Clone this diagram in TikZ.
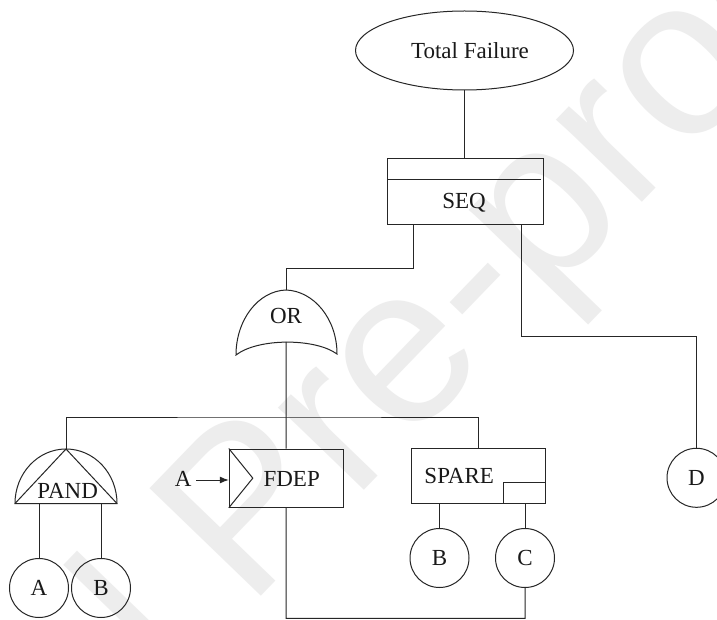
\documentclass[tikz,border=0pt]{standalone}
\usepackage{fontspec}
\setmainfont{Liberation Serif}
\newfontfamily\wmfont{Liberation Sans}
\usetikzlibrary{shapes.geometric,arrows.meta,calc}

\tikzset{
  ln/.style={line width=1pt, draw=black!85},
  lbl/.style={font=\fontsize{23}{27}\selectfont, inner sep=0pt, anchor=base, text=black!90},
  evt/.style={ln, circle, minimum size=59pt, inner sep=0pt, font=\fontsize{23}{27}\selectfont, text=black!90},
  gatebox/.style={ln, rectangle, inner sep=0pt},
}

\begin{document}
\begin{tikzpicture}[x=1pt, y=1pt]
\useasboundingbox (0,0) rectangle (717,619);
\fill[white] (0,0) rectangle (717,619);

% faint watermark
\begin{scope}
\clip (0,0) rectangle (717,619);
\node[rotate=46, text=black!7, font=\wmfont\fontsize{225}{225}\selectfont, inner sep=0pt] (wm) at (255,100) {Journal Pre-proof};
\end{scope}

% top event
\node[ln, ellipse, minimum width=218pt, minimum height=79pt, inner sep=0pt] (top) at (464.5,568.5) {};
\node[lbl] (toptxt) at (470,560.7) {Total Failure};

% SEQ gate
\node[gatebox, minimum width=155.5pt, minimum height=66pt] (seq) at (465.25,427) {};
\draw[ln] ($(seq.north west)+(0,-21)$) -- ($(seq.north east)+(-3,-21)$);
\node[lbl] (seqtxt) at (464,410.7) {SEQ};
\draw[ln] (top.south) -- (top.south |- seq.north);

% OR gate
\coordinate (ortop) at (286,329);
\coordinate (orbot) at (286,277);
\draw[ln] (236,264) .. controls (236,299) and (258,328) .. (ortop)
  .. controls (314,328) and (337,300) .. (337,265)
  .. controls (315,281) and (258,281) .. (236,264) -- cycle;
\node[lbl] (ortxt) at (286,295.7) {OR};

% SEQ inputs
\coordinate (seqL) at ($(seq.south west)+(26.5,0)$);
\coordinate (seqR) at ($(seq.south west)+(134.5,0)$);
\draw[ln] (seqL) -- ++(0,-43.5) -| (ortop);

% FDEP gate
\node[gatebox, minimum width=113.7pt, minimum height=58.3pt] (fdep) at (286.15,140.85) {};
\draw[ln] (fdep.north west) -- ($(fdep.west)+(24,0)$) -- (fdep.south west);
\node[lbl] (fdeptxt) at (291.7,132.3) {FDEP};
\node[lbl] (trig) at (183.3,132.3) {A};
\draw[ln, -{Latex[length=9pt,width=7pt]}] ($(trig.base east)+(4.5,6.7)$) -- (fdep.west |- 0,139);

% SPARE gate
\node[gatebox, minimum width=134.7pt, minimum height=55pt] (spare) at (478.35,143.2) {};
\draw[ln] ($(spare.south east)+(-42.4,0)$) |- ($(spare.south east)+(0,21)$);
\node[lbl] (sparetxt) at (459.2,135.7) {SPARE};

% PAND gate
\coordinate (pandtop) at (66,170);
\coordinate (pandL) at (15,115.5);
\coordinate (pandR) at (117,115.5);
\draw[ln] (pandL) arc[start angle=180, end angle=0, x radius=51pt, y radius=54.5pt] -- cycle;
\draw[ln] (pandL) -- (pandtop) -- (pandR);
\node[lbl] (pandtxt) at (67.7,120.7) {PAND};

% OR output bus
\coordinate (bus) at (286,202);
\draw[ln] (orbot) -- (fdep.north);
\draw[ln] (pandtop) |- (bus) -| (spare.north);

% basic events
\node[evt] (pa) at (39,31) {A};
\node[evt] (pb) at (101,31) {B};
\node[evt] (sb) at (439.5,61) {B};
\node[evt] (sc) at (525,61) {C};
\node[evt] (d) at (696.5,141.2) {D};

\draw[ln] (pa.north) -- (pa.north |- pandL);
\draw[ln] (pb.north) -- (pb.north |- pandR);
\draw[ln] (sb.north) -- (sb.north |- spare.south);
\draw[ln] (sc.north) -- (sc.north |- spare.south);
\draw[ln] (seqR) |- ($(d.north)+(0,111)$) -- (d.north);
\draw[ln] (fdep.south) -- (286,0.7) -| (sc.south);
\end{tikzpicture}
\end{document}
